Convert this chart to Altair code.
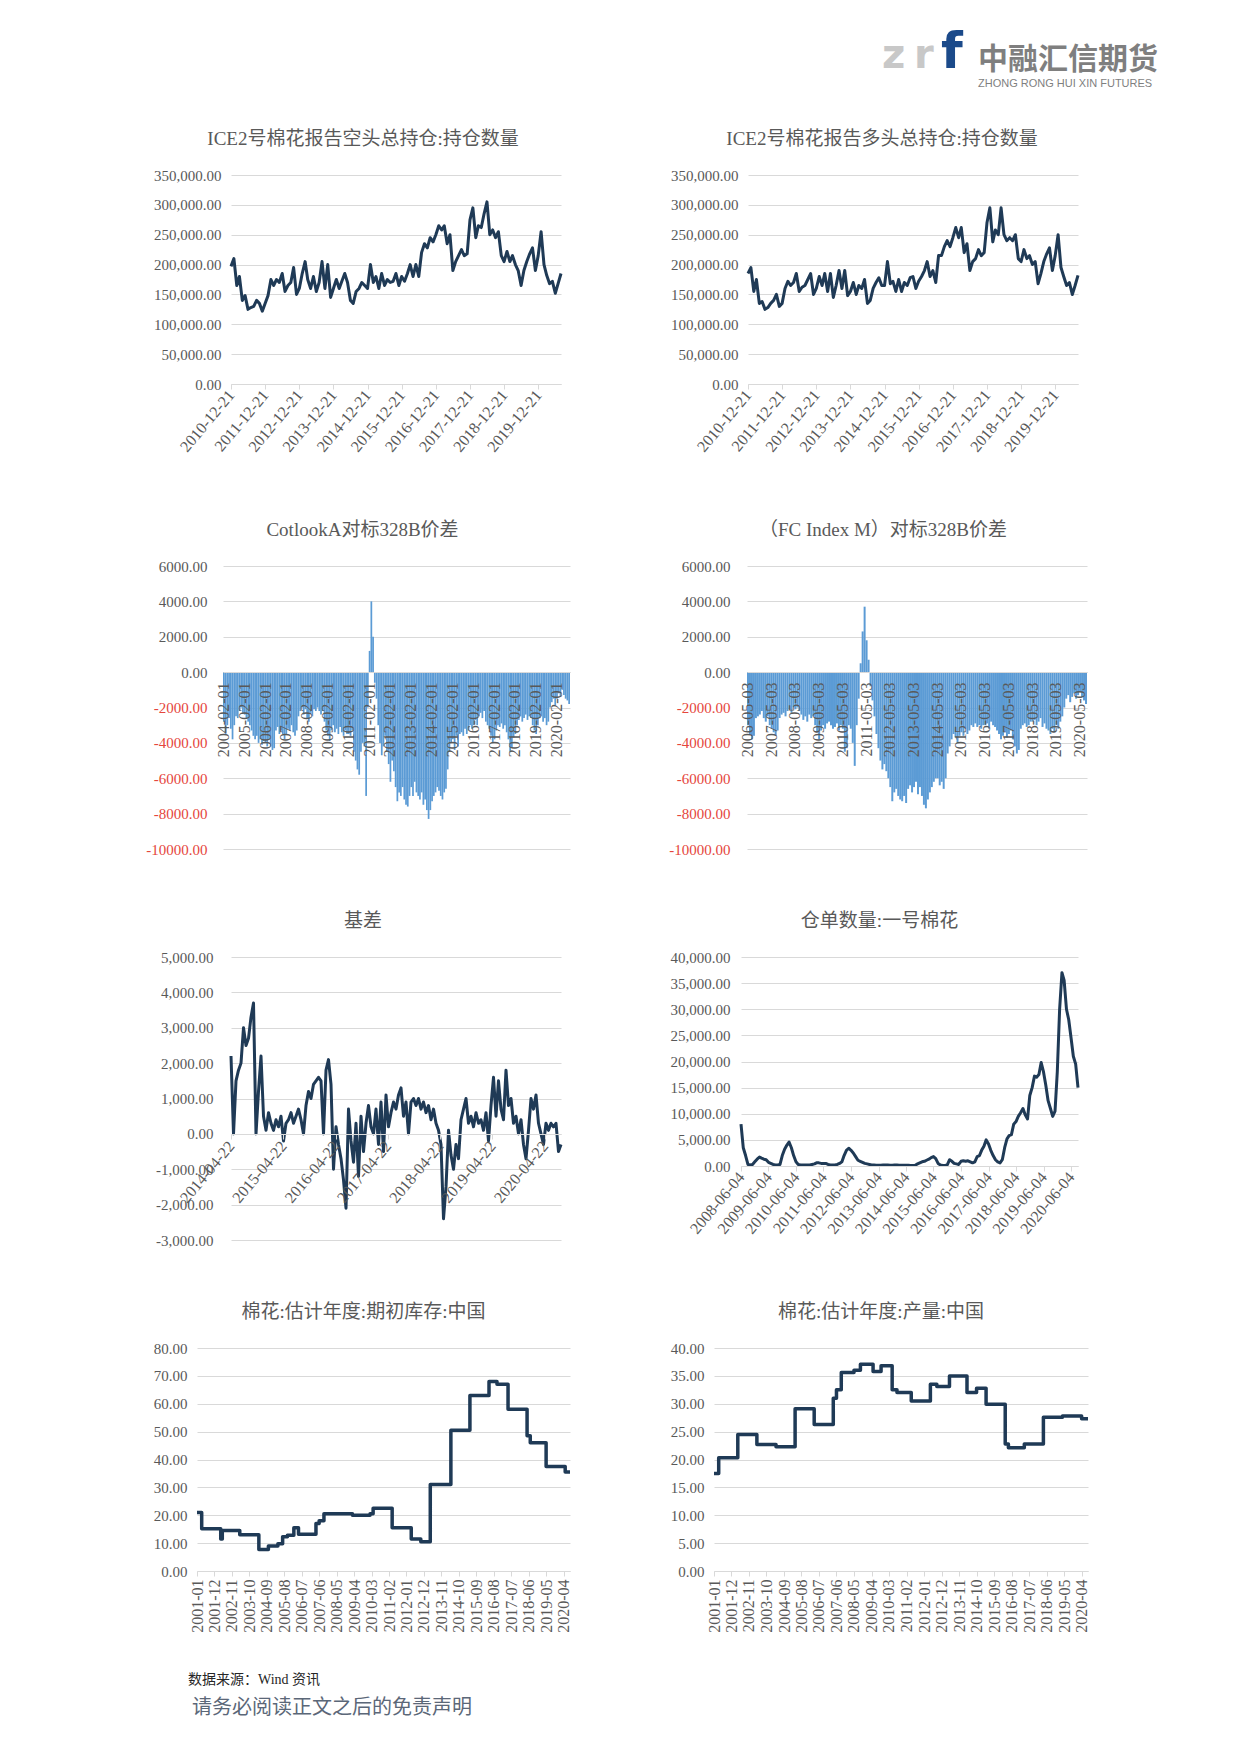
import altair as alt
import pandas as pd

# ---------------- text ----------------
LOGO_Z, LOGO_R, LOGO_F = "z", "r", "f"
LOGO_CN = "中融汇信期货"
LOGO_EN = "ZHONG RONG HUI XIN FUTURES"
SOURCE = "数据来源：Wind 资讯"
DISCLAIMER = "请务必阅读正文之后的免责声明"

T1 = "ICE2号棉花报告空头总持仓:持仓数量"
T2 = "ICE2号棉花报告多头总持仓:持仓数量"
T3 = "CotlookA对标328B价差"
T4 = "（FC Index M）对标328B价差"
T5 = "基差"
T6 = "仓单数量:一号棉花"
T7 = "棉花:估计年度:期初库存:中国"
T8 = "棉花:估计年度:产量:中国"

# ---------------- ICE positions (monthly, from 2010-12-21) ----------------
ICE_SHORT = [
    197000, 210000, 165000, 180000, 140000, 148000, 125000, 128000, 130000, 140000, 135000, 122000,
    135000, 148000, 175000, 165000, 175000, 170000, 185000, 155000, 165000, 170000, 195000, 150000,
    160000, 185000, 205000, 175000, 160000, 180000, 155000, 170000, 205000, 160000, 200000, 145000,
    160000, 175000, 160000, 172000, 185000, 170000, 140000, 135000, 155000, 160000, 170000, 165000,
    160000, 200000, 170000, 180000, 160000, 185000, 165000, 175000, 170000, 172000, 185000, 165000,
    180000, 172000, 185000, 200000, 180000, 200000, 180000, 220000, 235000, 228000, 245000, 238000,
    250000, 265000, 258000, 265000, 235000, 250000, 190000, 205000, 215000, 225000, 215000, 218000,
    275000, 295000, 245000, 265000, 262000, 285000, 305000, 250000, 258000, 245000, 255000, 215000,
    205000, 222000, 205000, 215000, 200000, 190000, 165000, 190000, 205000, 218000, 228000, 190000,
    215000, 255000, 200000, 182000, 168000, 172000, 152000, 168000, 185000]
ICE_LONG = [
    185000, 195000, 155000, 175000, 135000, 138000, 125000, 128000, 135000, 140000, 150000, 130000,
    135000, 160000, 172000, 165000, 170000, 185000, 155000, 162000, 165000, 175000, 185000, 150000,
    160000, 180000, 165000, 185000, 155000, 185000, 145000, 165000, 190000, 160000, 190000, 148000,
    155000, 170000, 150000, 165000, 160000, 175000, 135000, 140000, 160000, 170000, 178000, 165000,
    165000, 205000, 168000, 172000, 155000, 175000, 155000, 170000, 165000, 178000, 180000, 160000,
    172000, 180000, 190000, 205000, 180000, 190000, 170000, 215000, 215000, 230000, 240000, 230000,
    245000, 262000, 245000, 262000, 220000, 235000, 190000, 205000, 210000, 225000, 215000, 220000,
    270000, 295000, 238000, 258000, 250000, 295000, 250000, 240000, 245000, 240000, 250000, 210000,
    205000, 225000, 210000, 215000, 200000, 205000, 168000, 185000, 205000, 218000, 228000, 190000,
    215000, 250000, 195000, 180000, 165000, 170000, 150000, 165000, 182000]
ICE_X_TICKS = ["2010-12-21", "2011-12-21", "2012-12-21", "2013-12-21", "2014-12-21",
               "2015-12-21", "2016-12-21", "2017-12-21", "2018-12-21", "2019-12-21"]
ICE_Y_TICKS = [0, 50000, 100000, 150000, 200000, 250000, 300000, 350000]

# ---------------- spreads (monthly bars) ----------------
COTLOOK = [
    -2800, -3500, -3000, -2600, -3200, -3800, -3000, -2500, -2600, -2200, -2000, -2300,
    -2400, -2600, -2800, -3000, -3300, -3600, -3800, -3600, -4000, -3800, -4100, -3900,
    -4000, -4200, -3800, -4200, -4400, -4300, -3300, -3100, -3500, -3300, -3500, -3800,
    -3500, -3200, -3300, -3000, -3400, -3600, -3300, -2500, -2200, -2000, -2400, -2100,
    -2600, -2800, -2300, -2500, -2100, -2200, -2000, -2200, -2400, -2200, -2800, -3300,
    -3600, -3900, -3300, -3000, -3400, -3200, -3500, -3100, -3400, -3600, -3300, -3500,
    -3500, -3600, -3300, -4500, -5000, -5500, -5800, -4500, -4000, -4200, -7000, -2000,
    1200, 4000, 2000, -600, -1500, -3000, -4000, -4700, -4200, -3600, -4500, -5200,
    -6200, -5000, -5600, -6500, -7300, -6800, -7000, -6500, -7200, -7500, -7600, -7000,
    -6500, -7000, -6200, -6800, -7000, -7200, -6800, -7500, -7200, -7800, -8300, -7800,
    -7300, -7000, -6800, -6500, -6700, -7000, -7200, -6800, -6600, -5500, -4500, -4000,
    -3800, -4400, -3600, -4200, -3500, -3400, -3600, -3200, -3500, -3300, -3000, -3200,
    -3000, -2700, -3000, -2500, -2300, -2600, -2200, -2800, -3000, -3200, -3600, -4000,
    -3800, -3300, -3000, -3100, -2900, -3200, -3000, -3400, -3800, -4500, -4300, -3700,
    -3500, -3000, -2700, -2500, -2800, -2600, -2400, -2700, -2500, -2600, -3000, -3300,
    -3500, -3000, -2600, -2500, -2800, -2600, -3000, -2800, -2000, -1700, -1500, -1900,
    -1500, -1200, -1400, -1000, -1300, -1500, -1600, -1800]
COTLOOK_TICKS = ["%d-02-01" % y for y in range(2004, 2021)]
FC = [
    -3000, -3500, -3800, -3600, -2600, -2500, -2400, -2200, -2600, -2800, -2500, -3000,
    -3200, -3400, -3600, -3300, -2600, -2400, -2300, -2500, -2200, -2100, -2300, -2000,
    -2100, -2000, -2200, -2400, -2700, -2500, -2800, -2400, -2600, -2500, -3000, -3400,
    -3800, -3300, -3000, -3200, -2900, -2800, -3000, -3200, -3100, -2900, -3300, -3000,
    -3200, -4500, -4300, -3000, -3200, -4000, -5300, -3000, -1500, 500, 2300, 3700,
    1800, 700, -800, -1600, -2500, -3500, -4300, -5000, -5500, -5200, -5600, -6000,
    -6500, -7300, -6800, -6600, -7000, -7200, -7300, -7000, -7400, -6600, -6400, -6800,
    -6500, -6200, -6900, -6500, -7000, -7500, -7700, -7200, -6800, -6500, -6200, -6000,
    -6000, -6400, -6200, -6600, -6000, -4600, -4200, -3800, -3500, -3700, -4000, -3600,
    -3400, -3600, -3200, -3500, -3300, -3000, -3100, -2900, -3100, -3000, -3200, -3000,
    -3000, -2900, -3200, -2800, -3000, -3100, -3300, -3500, -3800, -3600, -3400, -3700,
    -3500, -3300, -3800, -4200, -4600, -4400, -3200, -3000, -2900, -3100, -3000, -2800,
    -2800, -2700, -3000, -2800, -2600, -3100, -2900, -3200, -3300, -3500, -3200, -3400,
    -3000, -3200, -2800, -2500, -2000, -1500, -1300, -1700, -1400, -1200, -1500, -1300,
    -1100, -1400, -1600, -1800]
FC_TICKS = ["%d-05-03" % y for y in range(2006, 2021)]
SPREAD_Y_TICKS = [-10000, -8000, -6000, -4000, -2000, 0, 2000, 4000, 6000]

# ---------------- basis ----------------
BASIS = [
    2200, 0, 1500, 1800, 2000, 3000, 2500, 2700, 3300, 3700,
    0, 1200, 2200, 500, 100, 600, 300, 100, 400, 200,
    500, -200, 300, 400, 600, 300, 500, 700, 400, 0,
    800, 1200, 1000, 1400, 1500, 1600, 1500, 0, 1800, 2100,
    1400, -1000, 200, -300, -700, -1300, -2100, 700, -200, -800,
    300, -1200, 500, -500, 300, 800, 200, 0, 700, -300,
    900, -500, 1100, 200, 600, 900, 700, 1100, 1300, 500,
    900, 0, 900, 1000, 800, 1000, 700, 900, 600, 800,
    400, 700, 300, 100, -300, -2400, -1500, 100, -600, -1000,
    -300, -700, 400, 700, 1000, 300, 500, 200, 600, 300,
    400, 100, 600, -200, 800, 1600, 500, 1500, 700, 400,
    1800, 800, 1000, 300, 500, 0, 400, -300, -700, 100,
    1000, 700, 1100, 300, 0, -300, 300, 100, 300, 200,
    300, -500, -300]
BASIS_RANGE = ["2014-04-22", "2020-08-13"]
BASIS_TICKS = ["%d-04-22" % y for y in range(2014, 2021)]
BASIS_Y_TICKS = [-3000, -2000, -1000, 0, 1000, 2000, 3000, 4000, 5000]

# ---------------- warehouse warrants (monthly from 2008-06-04) ----------------
WARRANT = [
    8000, 3500, 2000, 300, 200, 300, 800, 1300, 1700, 1500, 1300, 1200,
    700, 500, 300, 200, 200, 300, 2000, 3200, 4000, 4600, 3500, 2000,
    800, 300, 200, 200, 200, 200, 200, 300, 400, 600, 600, 500,
    500, 500, 300, 200, 200, 200, 300, 500, 800, 2000, 3000, 3400,
    3000, 2500, 1800, 1100, 900, 700, 500, 400, 300, 200, 200, 150,
    150, 150, 200, 200, 200, 150, 150, 200, 200, 150, 150, 150,
    150, 150, 100, 100, 150, 400, 600, 800, 900, 1100, 1300, 1600,
    1800, 1400, 500, 200, 100, 100, 200, 1200, 900, 500, 400, 300,
    900, 1000, 900, 1000, 800, 600, 800, 1800, 2000, 3000, 3800, 5000,
    4200, 3000, 2000, 1200, 800, 600, 1200, 3500, 5200, 5800, 6000, 8000,
    8500, 9500, 10200, 11000, 9800, 9000, 13500, 15000, 17200, 17000, 17500, 19800,
    18000, 15500, 12500, 11000, 9500, 10500, 18000, 30000, 37000, 35500, 30000, 28000,
    24500, 21000, 19500, 15000]
WARRANT_TICKS = ["%d-06-04" % y for y in range(2008, 2021)]
WARRANT_Y_TICKS = [0, 5000, 10000, 15000, 20000, 25000, 30000, 35000, 40000]

# ---------------- China stocks / output (step series) ----------------
STOCK_DATES = ["2001-01", "2001-04", "2002-04", "2002-05", "2003-04", "2004-04", "2004-10",
               "2005-04", "2005-07", "2005-10", "2006-02", "2006-05", "2007-04", "2007-06",
               "2007-09", "2009-03", "2010-02", "2010-04", "2011-04", "2012-04", "2012-10",
               "2013-04", "2014-05", "2015-05", "2016-05", "2016-10", "2017-05", "2018-05",
               "2018-07", "2019-05", "2020-05", "2020-08"]
STOCK_VALUES = [21, 15.2, 11.5, 14.5, 13, 7.7, 9, 9.8, 12.3, 12.8, 15.5, 13.2, 17, 18,
                20.5, 20, 20.5, 22.5, 15.5, 11.5, 10.5, 31, 50.5, 63, 68, 67, 58, 48.5,
                46, 37.5, 35.5, 35.5]
OUTPUT_DATES = ["2001-01", "2001-04", "2002-04", "2003-04", "2004-04", "2005-04", "2006-04",
                "2007-04", "2007-06", "2007-09", "2008-05", "2008-09", "2009-05", "2009-10",
                "2010-05", "2010-08", "2011-05", "2012-05", "2012-09", "2013-05", "2014-04",
                "2014-10", "2015-04", "2016-04", "2016-06", "2017-04", "2018-04", "2019-04",
                "2020-04", "2020-08"]
OUTPUT_VALUES = [17.5, 20.3, 24.5, 22.7, 22.3, 29.1, 26.3, 31, 32.5, 35.6, 36, 37.1, 35.8,
                 36.8, 32.5, 32, 30.5, 33.5, 33.1, 35, 32, 32.8, 29.9, 22.8, 22.1, 22.8,
                 27.6, 27.8, 27.3, 27.3]
SEASON_RANGE = ["2001-01", "2020-08"]
SEASON_TICKS = ["2001-01", "2001-12", "2002-11", "2003-10", "2004-09", "2005-08", "2006-07",
                "2007-06", "2008-05", "2009-04", "2010-03", "2011-02", "2012-01", "2012-12",
                "2013-11", "2014-10", "2015-09", "2016-08", "2017-07", "2018-06", "2019-05",
                "2020-04"]
STOCK_Y_TICKS = [0, 10, 20, 30, 40, 50, 60, 70, 80]
OUTPUT_Y_TICKS = [0, 5, 10, 15, 20, 25, 30, 35, 40]

# ---------------- style ----------------
GREY = "#595959"
GRID = "#d9d9d9"
LINE = "#1f3a56"
BAR = "#5b9bd5"
RED = "#e5463c"
NUM_FONT = "Liberation Serif"
TXT_FONT = "Liberation Serif, Noto Sans CJK SC"
CJK = "Noto Sans CJK SC"


def monthly(y, m, n, day):
    out = []
    for i in range(n):
        k = m - 1 + i
        out.append("%04d-%02d-%02d" % (y + k // 12, k % 12 + 1, day))
    return out


def dt(s):
    p = [int(v) for v in s.split("-")]
    return alt.DateTime(year=p[0], month=p[1], date=p[2] if len(p) > 2 else 1, utc=True)


def title(text, dx):
    return alt.TitleParams(text=text, font=TXT_FONT, fontSize=19, fontWeight="normal",
                           color=GREY, anchor="middle", frame="group", offset=0,
                           dx=dx, baseline="bottom")


def y_axis(values, fmt, ext, pad, red=False):
    color = GREY
    if red:
        color = {"condition": {"test": "datum.value < 0", "value": RED}, "value": GREY}
    return alt.Axis(values=values, format=fmt, title=None, domain=False, ticks=False,
                    grid=True, gridColor=GRID, gridWidth=1, labelFont=NUM_FONT,
                    labelFontSize=15, labelColor=color, labelPadding=pad,
                    minExtent=ext, maxExtent=ext)


def time_axis(ticks, fmt, angle, ext, offset=0, pad=3, tsize=5):
    return alt.Axis(values=[dt(t) for t in ticks], format=fmt, labelAngle=angle, title=None,
                    grid=False, domain=True, domainColor=GRID, domainWidth=1, ticks=True,
                    tickColor=GRID, tickSize=tsize, labelFont=NUM_FONT, labelFontSize=16,
                    labelColor=GREY, labelPadding=pad, labelOverlap=False, labelFlush=False,
                    minExtent=ext, maxExtent=ext, offset=offset, zindex=1)


def line_panel(dates, values, ttl, dx, w, h, xr, xticks, xfmt, angle, ydom, yticks, yfmt,
               lext, bext, ypad, xoff=0, xpad=3, interp="linear", sw=3):
    df = pd.DataFrame({"date": dates, "value": values})
    return alt.Chart(df).mark_line(color=LINE, strokeWidth=sw, interpolate=interp,
                                   strokeJoin="round").encode(
        x=alt.X("date:T", scale=alt.Scale(type="utc", domain=[dt(xr[0]), dt(xr[1])], nice=False),
                axis=time_axis(xticks, xfmt, angle, bext, xoff, xpad)),
        y=alt.Y("value:Q", scale=alt.Scale(domain=ydom, nice=False, zero=False),
                axis=y_axis(yticks, yfmt, lext, ypad)),
    ).properties(width=w, height=h, title=title(ttl, dx))


def bar_panel(cats, values, ttl, dx, w, h, xticks, lext, bext, ypad, xoff):
    df = pd.DataFrame({"cat": cats, "value": values})
    return alt.Chart(df).mark_bar(color=BAR, strokeWidth=0).encode(
        x=alt.X("cat:O", sort=None,
                scale=alt.Scale(paddingInner=0, paddingOuter=0),
                axis=alt.Axis(values=xticks, labelAngle=-90, title=None, grid=False,
                              domain=True, domainColor=GRID, ticks=False,
                              labelFont=NUM_FONT, labelFontSize=16, labelColor=GREY,
                              labelPadding=10, labelOverlap=False, offset=xoff,
                              minExtent=bext, maxExtent=bext, zindex=1)),
        y=alt.Y("value:Q", scale=alt.Scale(domain=[-10000, 6000], nice=False),
                axis=y_axis(SPREAD_Y_TICKS, ".2f", lext, ypad, True)),
    ).properties(width=w, height=h, title=title(ttl, dx))


# ---------------- panels ----------------
ice_dates = monthly(2010, 12, len(ICE_SHORT), 21)
c1 = line_panel(ice_dates, ICE_SHORT, T1, -33, 330, 209, [ice_dates[0], ice_dates[-1]],
                ICE_X_TICKS, "%Y-%m-%d", -50, [0, 350000], ICE_Y_TICKS, ",.2f", 222, 137, 10)
c2 = line_panel(ice_dates, ICE_LONG, T2, -31, 330, 209, [ice_dates[0], ice_dates[-1]],
                ICE_X_TICKS, "%Y-%m-%d", -50, [0, 350000], ICE_Y_TICKS, ",.2f", 185, 137, 10)

c3 = bar_panel(monthly(2004, 2, len(COTLOOK), 1), COTLOOK, T3, -34, 347, 283, COTLOOK_TICKS,
               214, 240, 16, -177)
c4 = bar_panel(monthly(2006, 5, len(FC), 3), FC, T4, -34, 340, 283, FC_TICKS,
               176, 240, 17, -177)

basis_dates = pd.date_range(BASIS_RANGE[0], BASIS_RANGE[1], periods=len(BASIS)).strftime("%Y-%m-%dT%H:%M:%SZ").tolist()
c5 = line_panel(basis_dates, BASIS, T5, -33, 330, 283, BASIS_RANGE, BASIS_TICKS, "%Y-%m-%d",
                -50, [-3000, 5000], BASIS_Y_TICKS, ",.2f", 222, 169, 18, xoff=-106, xpad=4)

warrant_dates = monthly(2008, 6, len(WARRANT), 4)
c6 = line_panel(warrant_dates, WARRANT, T6, -30, 337, 209, [warrant_dates[0], warrant_dates[-1]],
                WARRANT_TICKS, "%Y-%m-%d", -50, [0, 40000], WARRANT_Y_TICKS, ",.2f", 178, 137, 11)

c7 = line_panel([d + "-01" for d in STOCK_DATES], STOCK_VALUES, T7, -20, 373, 223, SEASON_RANGE,
                SEASON_TICKS, "%Y-%m", -90, [0, 80], STOCK_Y_TICKS, ".2f", 188, 82, 10,
                interp="step-after", sw=3.5)
c8 = line_panel([d + "-01" for d in OUTPUT_DATES], OUTPUT_VALUES, T8, -20, 374, 223, SEASON_RANGE,
                SEASON_TICKS, "%Y-%m", -90, [0, 40], OUTPUT_Y_TICKS, ".2f", 142, 82, 10,
                interp="step-after", sw=3.5)

# ---------------- header / footer ----------------
def txt(s, x, y, size, color, font, weight="normal", baseline="alphabetic"):
    return alt.Chart(pd.DataFrame({"t": [s]})).mark_text(
        align="left", baseline=baseline, fontSize=size, font=font, fontWeight=weight,
        color=color).encode(text="t:N", x=alt.value(x), y=alt.value(y))


def spacer():
    return alt.Chart(pd.DataFrame({"t": [""]})).mark_text().encode(
        text="t:N", x=alt.value(0), y=alt.value(0)).properties(width=1, height=1)


header = alt.layer(
    txt(LOGO_Z, 874, 60, 40, "#c8c8c8", "DejaVu Sans", "bold"),
    txt(LOGO_R, 906, 60, 40, "#c8c8c8", "DejaVu Sans", "bold"),
    txt(LOGO_F, 933, 60, 50, "#1b4a8a", "DejaVu Sans", "bold"),
    txt(LOGO_CN, 970, 52, 30, "#7f7f7f", CJK, "bold", "middle"),
    txt(LOGO_EN, 970, 76, 11, "#7f7f7f", "Liberation Sans", "normal", "middle"),
).properties(width=1160, height=122)

footer = alt.layer(
    txt(SOURCE, 180, 27, 14, "#262626", TXT_FONT, "normal", "middle"),
    txt(DISCLAIMER, 184, 55, 20, "#5b6778", CJK, "normal", "middle"),
).properties(width=1160, height=80)

row1 = alt.hconcat(spacer(), c1, c2, spacing=0)
row2 = alt.hconcat(spacer(), c3, c4, spacing=0)
row3 = alt.hconcat(spacer(), c5, c6, spacing=0)
row4 = alt.hconcat(spacer(), c7, c8, spacing=0)

chart = alt.vconcat(header, row1, row2, row3, row4, footer, spacing=0).properties(
    padding={"left": 0, "top": 0, "right": 0, "bottom": 0}
).configure(
    background="white",
    locale={"number": {"decimal": ".", "thousands": ",", "grouping": [3],
                       "currency": ["", ""], "minus": "-"}},
).configure_view(fill="white", strokeWidth=0)

chart.save("out.html", embed_options={"renderer": "svg", "actions": False})
